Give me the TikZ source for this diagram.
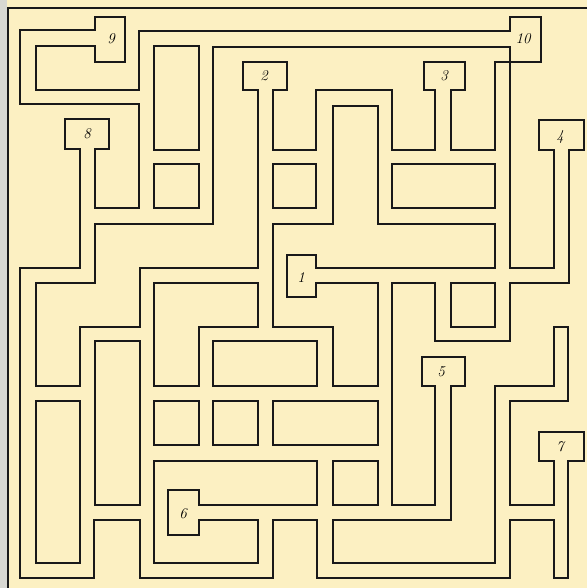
\documentclass[tikz,border=0pt]{standalone}
\usepackage{tikz}
\definecolor{paper}{RGB}{252,240,194}
\definecolor{margin}{RGB}{216,216,210}

\begin{document}
\begin{tikzpicture}[x=1pt, y=-1pt,
    wall/.style={line width=2.4pt, black!90, line join=miter},
    roomno/.style={font=\fontsize{15}{15}\selectfont\itshape}]
    \useasboundingbox (0,0) rectangle (587,588);
    \fill[paper] (0,0) rectangle (587,588);
    \fill[margin] (0,0) rectangle (7,588);
    % frame
    \draw[wall] (8,588) -- (8,8) -- (587,8);
    % outer wall
    \draw[wall] (20,30) -- (95,30) -- (95,17) -- (125,17) -- (125,62) -- (95,62)
        -- (95,46) -- (36,46) -- (36,90) -- (139,90) -- (139,31) -- (510,31)
        -- (510,17) -- (541,17) -- (541,62) -- (495,62) -- (495,150) -- (451,150)
        -- (451,90) -- (465,90) -- (465,62) -- (424,62) -- (424,90) -- (435,90)
        -- (435,150) -- (392,150) -- (392,90) -- (316,90) -- (316,150) -- (273,150)
        -- (273,90) -- (287,90) -- (287,62) -- (243,62) -- (243,90) -- (258,90)
        -- (258,268) -- (140,268) -- (140,327) -- (80,327) -- (80,386) -- (36,386)
        -- (36,283) -- (95,283) -- (95,224) -- (213,224) -- (213,47) -- (510,47)
        -- (510,268) -- (554,268) -- (554,150) -- (539,150) -- (539,120) -- (584,120)
        -- (584,150) -- (569,150) -- (569,283) -- (510,283) -- (510,341) -- (435,341)
        -- (435,283) -- (392,283) -- (392,505) -- (435,505) -- (435,386) -- (422,386)
        -- (422,357) -- (465,357) -- (465,386) -- (451,386) -- (451,520) -- (333,520)
        -- (333,563) -- (495,563) -- (495,386) -- (554,386) -- (554,327) -- (568,327)
        -- (568,401) -- (510,401) -- (510,505) -- (554,505) -- (554,461) -- (539,461)
        -- (539,432) -- (584,432) -- (584,461) -- (568,461) -- (568,578) -- (554,578)
        -- (554,520) -- (510,520) -- (510,578) -- (317,578) -- (317,520) -- (273,520)
        -- (273,578) -- (140,578) -- (140,520) -- (94,520) -- (94,578) -- (20,578)
        -- (20,268) -- (80,268) -- (80,149) -- (65,149) -- (65,119) -- (109,119)
        -- (109,149) -- (95,149) -- (95,208) -- (139,208) -- (139,104) -- (20,104) -- cycle;
    % inner walls
    \draw[wall] (273,224) -- (333,224) -- (333,106) -- (378,106) -- (378,224) -- (495,224)
        -- (495,268) -- (316,268) -- (316,255) -- (287,255) -- (287,297) -- (316,297)
        -- (316,283) -- (378,283) -- (378,386) -- (333,386) -- (333,327) -- (273,327) -- cycle;
    \draw[wall] (154,461) -- (317,461) -- (317,505) -- (199,505) -- (199,490) -- (168,490)
        -- (168,535) -- (199,535) -- (199,520) -- (258,520) -- (258,563) -- (154,563) -- cycle;
    \draw[wall] (154,283) -- (258,283) -- (258,327) -- (199,327) -- (199,386) -- (154,386) -- cycle;
    % blocks
    \draw[wall] (154,46) rectangle (199,150);
    \draw[wall] (154,164) rectangle (199,208);
    \draw[wall] (273,164) rectangle (316,208);
    \draw[wall] (392,164) rectangle (495,208);
    \draw[wall] (451,283) rectangle (495,327);
    \draw[wall] (95,341) rectangle (140,505);
    \draw[wall] (213,341) rectangle (317,386);
    \draw[wall] (154,401) rectangle (199,445);
    \draw[wall] (213,401) rectangle (258,445);
    \draw[wall] (273,401) rectangle (378,445);
    \draw[wall] (333,461) rectangle (378,505);
    \draw[wall] (36,401) rectangle (80,563);
    % room numbers
    \node[roomno] (r1) at (301,278) {1};
    \node[roomno] (r2) at (264,76) {2};
    \node[roomno] (r3) at (444,76) {3};
    \node[roomno] (r4) at (560,137) {4};
    \node[roomno] (r5) at (441,372) {5};
    \node[roomno] (r6) at (183,514) {6};
    \node[roomno] (r7) at (560,447) {7};
    \node[roomno] (r8) at (87,134) {8};
    \node[roomno] (r9) at (111,39) {9};
    \node[roomno] (r10) at (523,39) {10};
\end{tikzpicture}
\end{document}
